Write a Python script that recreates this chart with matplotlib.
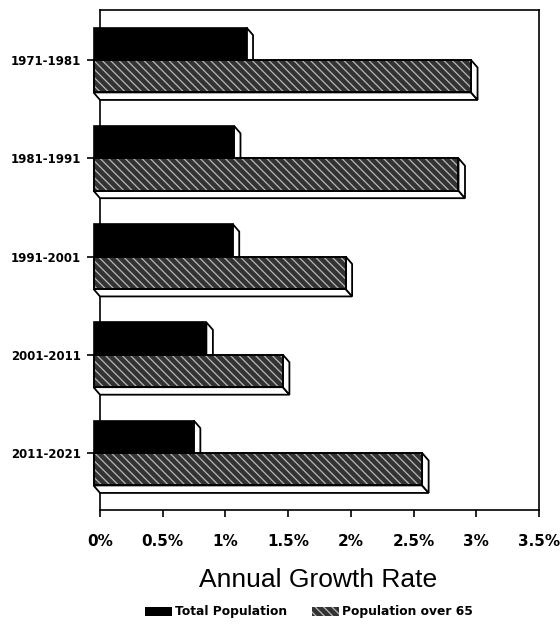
import numpy as np
import matplotlib
matplotlib.use("Agg")
import matplotlib.pyplot as plt
from matplotlib.patches import Polygon, Patch

# ---- data ----
categories = ['1971-1981', '1981-1991', '1991-2001', '2001-2011', '2011-2021']
total_pop = [1.22, 1.12, 1.11, 0.90, 0.80]
pop_over65 = [3.01, 2.91, 2.01, 1.51, 2.62]
xtick_vals = [0, 0.5, 1, 1.5, 2, 2.5, 3, 3.5]
xtick_labels = ['0%', '0.5%', '1%', '1.5%', '2%', '2.5%', '3%', '3.5%']
series_names = ['Total Population', 'Population over 65']

plt.rcParams['hatch.linewidth'] = 0.9

W, H = 560, 624
fig = plt.figure(figsize=(W / 100, H / 100), dpi=100)
ax_l, ax_r, ax_t, ax_b = 100, 539, 10, 510
ax = fig.add_axes([ax_l / W, (H - ax_b) / H, (ax_r - ax_l) / W, (ax_b - ax_t) / H])

xmin, xmax = 0, 3.5
ytop, ybot = -0.509, 4.58
ax.set_xlim(xmin, xmax)
ax.set_ylim(ybot, ytop)

px_x = (xmax - xmin) / (ax_r - ax_l)
px_y = (ybot - ytop) / (ax_b - ax_t)
ox = 6.5 * px_x      # depth offset (x)
oy = 7.5 * px_y      # depth offset (y, downward)
h = 0.33             # bar thickness

pos = np.arange(len(categories))
dark = '#333333'
light = '#b8b8b8'


def faces(i_top, i_bot, v, z):
    side = [(v - ox, i_top), (v, i_top + oy), (v, i_bot + oy), (v - ox, i_bot)]
    bottom = [(-ox, i_bot), (v - ox, i_bot), (v, i_bot + oy), (0, i_bot + oy)]
    for pts in (bottom, side):
        ax.add_patch(Polygon(pts, closed=True, facecolor='white', edgecolor='black',
                             linewidth=1.3, joinstyle='miter', zorder=z, clip_on=False))


for i, (t, g) in enumerate(zip(total_pop, pop_over65)):
    faces(i - h, i, t, 3)
    faces(i, i + h, g, 5)

# total population front faces
ax.barh(pos - h / 2, total_pop, height=h, left=-ox, color='black',
        edgecolor='black', linewidth=1.2, zorder=4, clip_on=False)
# population over 65 front faces (hatched)
ax.barh(pos + h / 2, pop_over65, height=h, left=-ox, color=dark,
        edgecolor=light, hatch='\\\\\\\\', linewidth=0, zorder=6, clip_on=False)
ax.barh(pos + h / 2, pop_over65, height=h, left=-ox, fill=False,
        edgecolor='black', linewidth=1.4, zorder=7, clip_on=False)

for s in ax.spines.values():
    s.set_linewidth(1.2)
    s.set_color('black')

ax.set_axisbelow(True)
ax.set_xticks(xtick_vals)
ax.set_xticklabels(xtick_labels, fontsize=11, fontweight='bold', family='DejaVu Sans')
ax.set_yticks(pos)
ax.set_yticklabels(categories, fontsize=8.5, fontweight='bold', family='DejaVu Sans')
ax.tick_params(axis='x', length=5.0, width=1.2, pad=12.5, direction='out')
ax.tick_params(axis='y', length=9.4, width=1.2, pad=4.3, direction='out')

fig.text(0.568, (H - 587) / H, 'Annual Growth Rate', ha='center', va='baseline',
         fontsize=19, family='Liberation Sans')

handles = [Patch(facecolor='black', edgecolor='black', linewidth=0),
           Patch(facecolor=dark, edgecolor=light, hatch='\\\\\\\\', linewidth=0)]
fig.legend(handles, series_names, loc='center', bbox_to_anchor=(0.552, (H - 612) / H),
           ncol=2, frameon=False, prop={'family': 'DejaVu Sans', 'weight': 'bold', 'size': 8.8},
           handlelength=2.2, handleheight=0.74, handletextpad=0.25, columnspacing=2.0,
           borderpad=0, borderaxespad=0)

fig.savefig('out.png', dpi=100)
